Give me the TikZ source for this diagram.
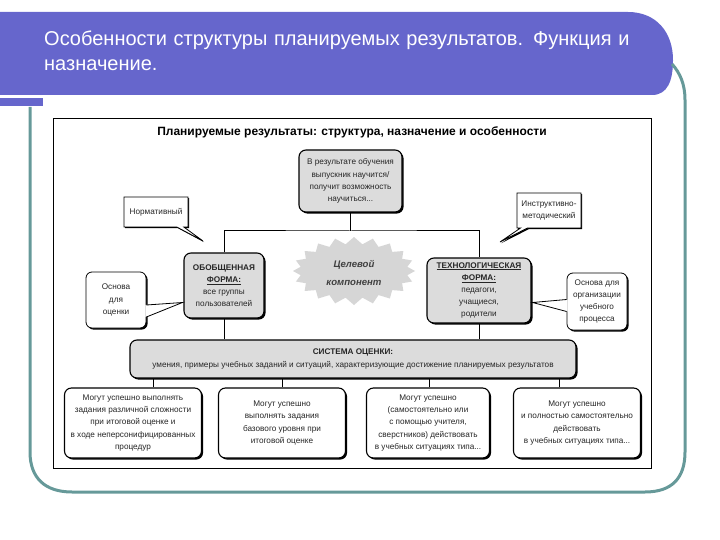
\documentclass[tikz,border=0pt]{standalone}
\usepackage{fontspec}
\setmainfont{Liberation Sans}
\usetikzlibrary{shapes.symbols,shapes.callouts,shadows,calc}
\definecolor{bannerblue}{RGB}{102,102,204}
\definecolor{frameteal}{RGB}{102,153,153}
\definecolor{boxgray}{RGB}{220,220,220}
\definecolor{stargray}{RGB}{214,214,214}
\newcommand\dgfont{\fontsize{8.2}{12.2}\selectfont}
\begin{document}
\begin{tikzpicture}[x=1pt, y=-1pt,
    grbox/.style={draw, line width=1.1pt, rounded corners=7pt, fill=boxgray, align=center, inner sep=1pt, font=\dgfont, text=black!85,
      drop shadow={shadow xshift=1.6pt, shadow yshift=-1.6pt, opacity=1, fill=black}},
    wbox/.style={grbox, fill=white},
    notebox/.style={rectangle callout, draw, line width=0.8pt, fill=white, align=center, inner sep=1pt, font=\dgfont, text=black!85,
      callout pointer width=7pt, drop shadow={shadow xshift=1.2pt, shadow yshift=-1.2pt, opacity=1, fill=black}},
    link/.style={line width=1pt}]
  \useasboundingbox (0,0) rectangle (720,540);
  % slide banner and frame
  \fill[bannerblue] (0,12) -- (628,12) .. controls (656,12) and (673,32) .. (673,60) .. controls (673,80) and (668,95) .. (652,95) -- (0,95) -- cycle;
  \fill[bannerblue] (0,98) rectangle (43,106);
  \node[anchor=north west, text=white, font=\fontsize{20}{25}\selectfont, text width=640pt, align=left, inner sep=0pt] (head) at (44,31)
    {Особенности структуры планируемых результатов. Функция и\\назначение.};
  \draw[frameteal, line width=3pt] (30,107) -- (30,452) .. controls (30,478) and (45,492) .. (72,492) -- (645,492)
    .. controls (672,492) and (685,478) .. (685,452) -- (685,100) .. controls (685,84) and (680,73) .. (672,64);
  % diagram
  \draw[line width=1pt, fill=white] (53,119) rectangle (651,468);
  \node[font=\bfseries\fontsize{12}{14}\selectfont] (ttl) at (352,132) {Планируемые результаты: структура, назначение и особенности};
  \node[grbox, minimum width=103pt, minimum height=62pt] (goal) at (350.5,181)
    {В результате обучения\\выпускник научится/\\получит возможность\\научиться...};
  \node[starburst, starburst points=20, starburst point height=7pt, random starburst=0, fill=stargray,
    minimum width=122pt, minimum height=68pt] (star) at (354,271) {};
  \node[align=center, text=black!75, font=\bfseries\itshape\fontsize{9.6}{18}\selectfont] (startext) at (354,273) {Целевой\\компонент};
  \node[grbox, minimum width=80pt, minimum height=65pt] (obob) at (224,285.5)
    {\textbf{ОБОБЩЕННАЯ}\\\textbf{\underline{ФОРМА:}}\\все группы\\пользователей};
  \node[grbox, minimum width=104pt, minimum height=65pt] (tech) at (479,290.5)
    {\textbf{\underline{ТЕХНОЛОГИЧЕСКАЯ}}\\\textbf{\underline{ФОРМА:}}\\педагоги,\\учащиеся,\\родители};
  \node[grbox, minimum width=446pt, minimum height=38pt] (sys) at (353,359)
    {\textbf{СИСТЕМА ОЦЕНКИ:}\\умения, примеры учебных заданий и ситуаций, характеризующие достижение планируемых результатов};
  \node[wbox, minimum width=137pt, minimum height=70pt] (b1) at (133,423)
    {Могут успешно выполнять\\задания различной сложности\\при итоговой оценке и\\в ходе неперсонифицированных\\процедур};
  \node[wbox, minimum width=127pt, minimum height=70pt] (b2) at (282,423)
    {Могут успешно\\выполнять задания\\базового уровня при\\итоговой оценке};
  \node[wbox, minimum width=123pt, minimum height=70pt] (b3) at (428,423)
    {Могут успешно\\(самостоятельно или\\с помощью учителя,\\сверстников) действовать\\в учебных ситуациях типа...};
  \node[wbox, minimum width=127pt, minimum height=70pt] (b4) at (577,423)
    {Могут успешно\\и полностью самостоятельно\\действовать\\в учебных ситуациях типа...};
  % callouts
  \node[notebox, minimum width=64pt, minimum height=30pt, callout absolute pointer={(203,241)}] (norm) at (156,212) {Нормативный};
  \node[notebox, minimum width=64pt, minimum height=35pt, callout absolute pointer={(500,242)}] (instr) at (549,210.5) {Инструктивно-\\методический};
  \node[wbox, line width=0.8pt, rounded corners=6pt, minimum width=60pt, minimum height=56pt] (base1) at (116,300) {Основа\\для\\оценки};
  \node[wbox, line width=0.8pt, rounded corners=6pt, minimum width=60pt, minimum height=57pt] (base2) at (597,301.5) {Основа для\\организации\\учебного\\процесса};
  \coordinate (tip1) at ($(obob.west)+(-1,17)$);
  \coordinate (tip2) at ($(tech.east)+(1,12)$);
  \fill[white] ($(base1.east)+(-1,5)$) -- (tip1) -- ($(base1.east)+(-1,17)$) -- cycle;
  \draw[line width=0.8pt] ($(base1.east)+(0,5)$) -- (tip1) -- ($(base1.east)+(0,17)$);
  \fill[white] ($(base2.west)+(1,-2)$) -- (tip2) -- ($(base2.west)+(1,10)$) -- cycle;
  \draw[line width=0.8pt] ($(base2.west)+(0,-2)$) -- (tip2) -- ($(base2.west)+(0,10)$);
  % connectors
  \coordinate (hub) at (350.5,231);
  \draw[link] (goal.south) -- (hub);
  \draw[link] (obob.north) |- (hub) -| (tech.north);
  \draw[link] (obob.south) -- (obob.south |- sys.north);
  \draw[link] (tech.south) -- (tech.south |- sys.north);
  \foreach \bx/\dx in {b1/20, b2/0, b3/1, b4/-18}
    \draw[link] ([xshift=\dx pt]\bx.north) -- ([xshift=\dx pt]\bx.north |- sys.south);
\end{tikzpicture}
\end{document}
